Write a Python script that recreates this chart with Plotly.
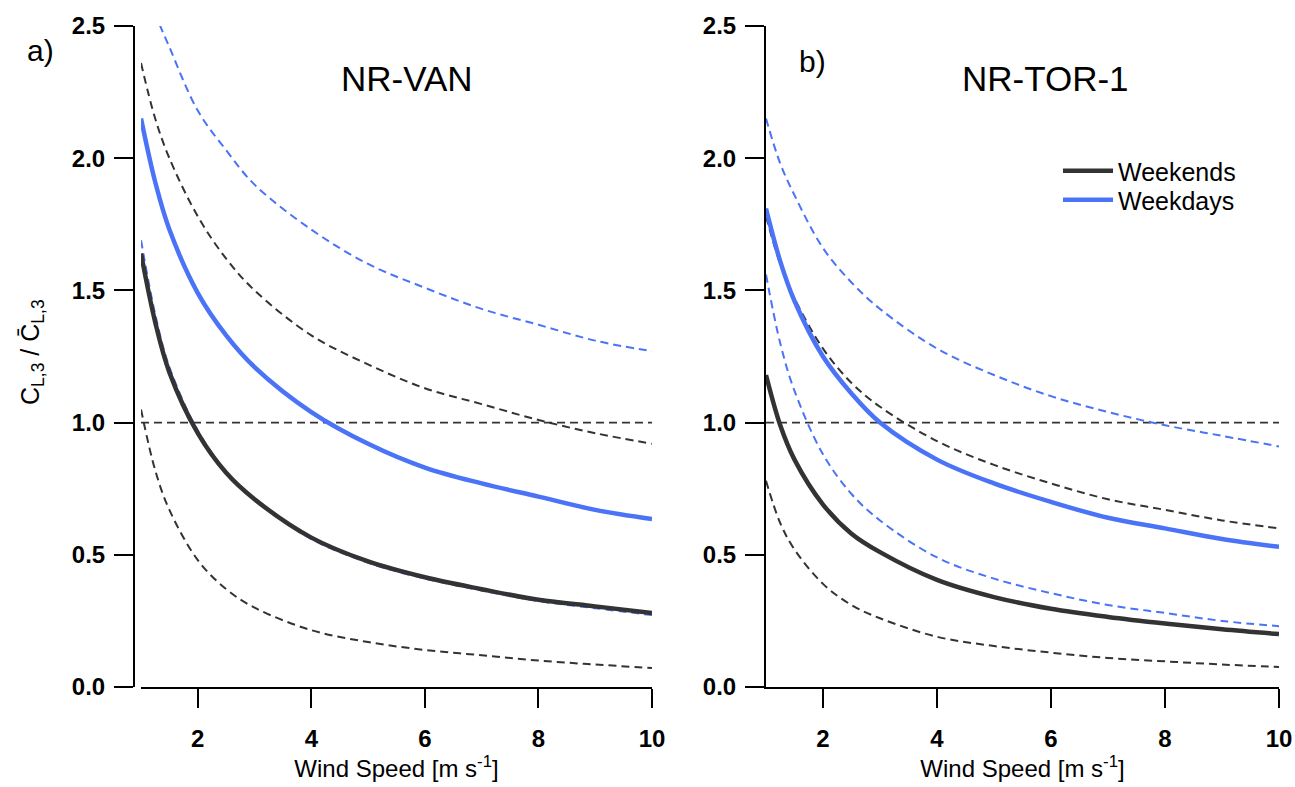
import plotly.graph_objects as go

W, H = 1295, 787

# Wind speed sample points (m s-1)
wind = [1, 1.25, 1.5, 2, 2.5, 3, 4, 5, 6, 7, 8, 9, 10]

# Panel a) NR-VAN
van_weekdays = [2.15, 1.91, 1.73, 1.49, 1.33, 1.21, 1.04, 0.92, 0.83, 0.77, 0.72, 0.67, 0.635]
van_weekdays_hi = [2.74, 2.55, 2.42, 2.18, 2.03, 1.90, 1.73, 1.60, 1.51, 1.43, 1.37, 1.31, 1.27]
van_weekdays_lo = [1.69, 1.41, 1.21, 0.97, 0.815, 0.71, 0.56, 0.47, 0.41, 0.365, 0.325, 0.298, 0.272]
van_weekends = [1.64, 1.38, 1.19, 0.96, 0.81, 0.71, 0.565, 0.475, 0.415, 0.37, 0.33, 0.305, 0.28]
van_weekends_hi = [2.36, 2.15, 2.00, 1.78, 1.62, 1.50, 1.33, 1.22, 1.13, 1.07, 1.01, 0.96, 0.92]
van_weekends_lo = [1.05, 0.82, 0.67, 0.48, 0.37, 0.30, 0.215, 0.17, 0.14, 0.12, 0.10, 0.085, 0.072]

# Panel b) NR-TOR-1
tor_weekdays = [1.81, 1.61, 1.46, 1.25, 1.11, 1.00, 0.86, 0.77, 0.70, 0.64, 0.60, 0.56, 0.53]
tor_weekdays_hi = [2.15, 1.98, 1.86, 1.66, 1.53, 1.43, 1.28, 1.18, 1.10, 1.04, 0.99, 0.95, 0.91]
tor_weekdays_lo = [1.56, 1.30, 1.12, 0.88, 0.73, 0.63, 0.49, 0.41, 0.355, 0.31, 0.28, 0.25, 0.23]
tor_weekends = [1.18, 0.99, 0.86, 0.69, 0.58, 0.51, 0.405, 0.34, 0.296, 0.265, 0.24, 0.218, 0.20]
tor_weekends_hi = [1.78, 1.60, 1.47, 1.28, 1.15, 1.06, 0.93, 0.84, 0.77, 0.71, 0.67, 0.63, 0.60]
tor_weekends_lo = [0.78, 0.62, 0.52, 0.39, 0.31, 0.26, 0.19, 0.155, 0.13, 0.11, 0.097, 0.085, 0.076]

ref_x = [1, 10]
ref_y = [1.0, 1.0]

y_ticks = [0.0, 0.5, 1.0, 1.5, 2.0, 2.5]
x_ticks = [2, 4, 6, 8, 10]

BLUE = "#4a73f7"
DARK = "#333333"
FONT = "Liberation Sans, Arial, sans-serif"

fig = go.Figure()


def add_panel(xa, ya, mean_we, hi_we, lo_we, mean_wd, hi_wd, lo_wd, legend):
    common = dict(xaxis=xa, yaxis=ya, mode="lines", hoverinfo="skip")
    fig.add_trace(go.Scatter(x=ref_x, y=ref_y, line=dict(color=DARK, width=1.8, dash="8px,5px"),
                             showlegend=False, **common))
    for ys, col in [(hi_we, DARK), (lo_we, DARK), (hi_wd, BLUE), (lo_wd, BLUE)]:
        fig.add_trace(go.Scatter(x=wind, y=ys, line=dict(color=col, width=2, dash="8px,5px",
                                                         shape="spline", smoothing=1.0),
                                 showlegend=False, **common))
    fig.add_trace(go.Scatter(x=wind, y=mean_we, name="Weekends", legend="legend",
                             line=dict(color=DARK, width=4.5, shape="spline", smoothing=1.0),
                             showlegend=legend, **common))
    fig.add_trace(go.Scatter(x=wind, y=mean_wd, name="Weekdays", legend="legend2",
                             line=dict(color=BLUE, width=4.5, shape="spline", smoothing=1.0),
                             showlegend=legend, **common))


add_panel("x", "y", van_weekends, van_weekends_hi, van_weekends_lo,
          van_weekdays, van_weekdays_hi, van_weekdays_lo, False)
add_panel("x2", "y2", tor_weekends, tor_weekends_hi, tor_weekends_lo,
          tor_weekdays, tor_weekdays_hi, tor_weekdays_lo, True)

ydom = [(787 - 687) / H, (787 - 26) / H]

axis_common = dict(showline=True, linecolor="black", linewidth=2, ticks="outside",
                   ticklen=19, tickwidth=2, tickcolor="black", showgrid=False, zeroline=False,
                   automargin=False,
                   tickfont=dict(family=FONT, size=24, color="black", weight="bold"))

xtitle = dict(text="Wind Speed [m s<sup>-1</sup>]", font=dict(family=FONT, size=24), standoff=8)

legend_common = dict(xanchor="left", yanchor="middle",
                     font=dict(family=FONT, size=25, color="black"), bgcolor="rgba(0,0,0,0)",
                     tracegroupgap=0, itemwidth=50)

fig.update_layout(
    width=W, height=H,
    margin=dict(l=0, r=0, t=0, b=0, autoexpand=False),
    paper_bgcolor="white", plot_bgcolor="white",
    font=dict(family=FONT, color="black"),
    xaxis=dict(domain=[141 / W, 652 / W], range=[1, 10], anchor="y", tickvals=x_ticks,
               ticktext=[str(v) for v in x_ticks], ticklabelstandoff=10,
               title=xtitle, **axis_common),
    yaxis=dict(domain=ydom, range=[0, 2.5], anchor="free", position=134 / W,
               tickvals=y_ticks, ticktext=[f"{v:.1f}" for v in y_ticks],
               ticklabelstandoff=4, **axis_common),
    xaxis2=dict(domain=[766 / W, 1279 / W], range=[1, 10], anchor="y2", tickvals=x_ticks,
                ticktext=[str(v) for v in x_ticks], ticklabelstandoff=10,
                title=xtitle, **axis_common),
    yaxis2=dict(domain=ydom, range=[0, 2.5], anchor="x2",
                tickvals=y_ticks, ticktext=[f"{v:.1f}" for v in y_ticks],
                ticklabelstandoff=4, **axis_common),
    legend=dict(x=1058 / W, y=1 - 171 / H, **legend_common),
    legend2=dict(x=1058 / W, y=1 - 200 / H, **legend_common),
    showlegend=True,
)

annos = [
    dict(text="a)", x=40 / W, y=1 - 50 / H, size=30),
    dict(text="NR-VAN", x=407 / W, y=1 - 78 / H, size=35),
    dict(text="b)", x=812 / W, y=1 - 62 / H, size=30),
    dict(text="NR-TOR-1", x=1045 / W, y=1 - 78 / H, size=35),
]
for a in annos:
    fig.add_annotation(text=a["text"], x=a["x"], y=a["y"], xref="paper", yref="paper",
                       showarrow=False, xanchor="center", yanchor="middle",
                       font=dict(family=FONT, size=a["size"], color="black"))

fig.add_annotation(text="C<sub>L,3</sub> / C\u0304<sub>L,3</sub>", x=32 / W, y=1 - 352 / H,
                   xref="paper", yref="paper", showarrow=False, textangle=-90,
                   xanchor="center", yanchor="middle",
                   font=dict(family=FONT, size=25, color="black"))

fig.write_html("out.html")
